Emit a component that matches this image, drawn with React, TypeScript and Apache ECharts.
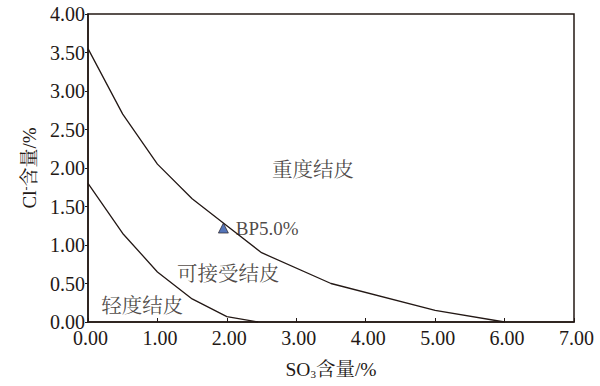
import React, { useEffect, useRef } from "react";
import * as echarts from "echarts";

const severeBoundary: [number, number][] = [
  [0, 3.55], [0.5, 2.7], [1, 2.05], [1.5, 1.6], [2, 1.25], [2.5, 0.9], [3.5, 0.5], [5, 0.15], [6, 0],
];
const lightBoundary: [number, number][] = [
  [0, 1.8], [0.5, 1.15], [1, 0.65], [1.5, 0.3], [2, 0.07], [2.45, 0],
];
const samplePoints: [number, number][] = [[1.95, 1.22]];
const sampleNames = ["BP5.0%"];
const regionLabels = ["重度结皮", "可接受结皮", "轻度结皮"];
const regionPositions: [number, number][] = [[3.24, 2.0], [2.02, 0.65], [0.78, 0.24]];

const INK = "#231815";
const SERIF = "'Liberation Serif', 'Times New Roman', serif";
const CJK = "'Noto Serif CJK SC', 'Noto Sans CJK SC', serif";

export default function App() {
  const ref = useRef<HTMLDivElement>(null);
  useEffect(() => {
    if (!ref.current) return;
    const chart = echarts.init(ref.current, undefined, { renderer: "svg" });
    chart.setOption({
      animation: false,
      backgroundColor: "#fff",
      grid: {
        left: 88, right: 26, top: 14, bottom: 64,
        show: true, borderColor: INK, borderWidth: 1.5, backgroundColor: "transparent",
      },
      xAxis: {
        type: "value", min: 0, max: 7, interval: 1,
        name: "{a|SO}{sub|3}{a|含量/%}",
        nameLocation: "middle", nameGap: 37,
        nameTextStyle: {
          rich: {
            a: { fontFamily: SERIF + "," + CJK, fontSize: 19.5, color: INK },
            sub: { fontFamily: SERIF, fontSize: 11, color: INK, verticalAlign: "bottom", padding: [9, 0, 0, 0] },
          },
        },
        axisLine: { lineStyle: { color: INK, width: 1.5 } },
        axisTick: { inside: true, length: 4, lineStyle: { color: INK } },
        axisLabel: {
          formatter: (v: number) => v.toFixed(2), fontFamily: SERIF, fontSize: 20, lineHeight: 14,
          color: INK, margin: 9, padding: [0, 0, 0, 5],
        },
        splitLine: { show: false },
      },
      yAxis: {
        type: "value", min: 0, max: 4, interval: 0.5,
        name: "{a|Cl}{sup|-}{a|含量/%}",
        nameLocation: "middle", nameGap: 44, nameRotate: 90,
        nameTextStyle: {
          rich: {
            a: { fontFamily: SERIF + "," + CJK, fontSize: 19, color: INK },
            sup: { fontFamily: SERIF, fontSize: 12, color: INK, verticalAlign: "top", padding: [0, 0, 8, 0] },
          },
        },
        axisLine: { lineStyle: { color: INK, width: 1.5 } },
        axisTick: { inside: false, length: 3, lineStyle: { color: INK } },
        axisLabel: {
          formatter: (v: number) => v.toFixed(2), fontFamily: SERIF, fontSize: 20, lineHeight: 14,
          color: INK, margin: 3,
        },
        splitLine: { show: false },
      },
      series: [
        {
          type: "line", data: severeBoundary, symbol: "none",
          lineStyle: { color: INK, width: 1.3 },
        },
        {
          type: "line", data: lightBoundary, symbol: "none",
          lineStyle: { color: INK, width: 1.3 },
        },
        {
          type: "scatter", data: samplePoints, symbol: "triangle", symbolSize: 10,
          itemStyle: { color: "#2a52a8", borderColor: INK, borderWidth: 0.8 },
          label: {
            show: true, position: "right", distance: 7,
            formatter: (p: any) => sampleNames[p.dataIndex],
            fontFamily: SERIF, fontSize: 19, color: INK,
          },
        },
        {
          type: "scatter", data: regionPositions, symbolSize: 0,
          label: {
            show: true, position: "inside",
            formatter: (p: any) => regionLabels[p.dataIndex],
            fontFamily: CJK, fontSize: 20.5, color: INK,
          },
        },
      ],
    });
    return () => chart.dispose();
  }, []);
  return <div ref={ref} style={{ width: 600, height: 386, position: "absolute", left: 0, top: 0 }} />;
}
